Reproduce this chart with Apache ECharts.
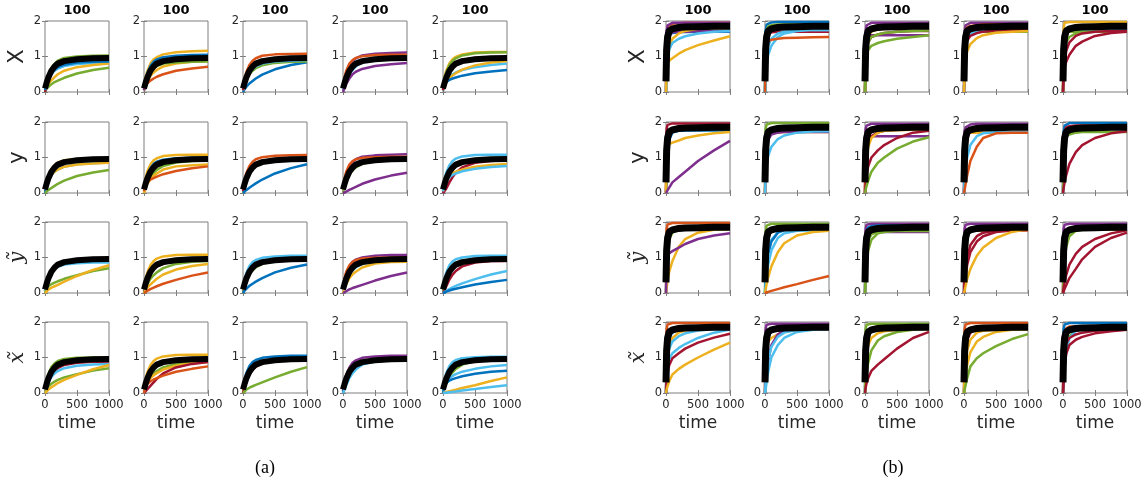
<!DOCTYPE html>
<html>
<head>
<meta charset="utf-8">
<script src="https://cdn.jsdelivr.net/npm/echarts@6/dist/echarts.min.js"></script>
<style>
html,body{margin:0;padding:0;background:#fff}
#main{width:1148px;height:490px}
</style>
</head>
<body>
<div id="main"></div>
<script>
// sample times of the runs (panel b rises much faster, so it is sampled finer at the start)
var timeA = [0, 25, 50, 100, 150, 200, 300, 500, 750, 1000];
var timeB = [0, 10, 25, 50, 100, 200, 300, 500, 750, 1000];
var xTicks = [0, 500, 1000];
var yTicks = [0, 1, 2];
var rowNames = ['X', 'y', 'ỹ', 'x̃'];
var colTitle = '100';
var xName = 'time';
var panelNames = ['(a)', '(b)'];

// mean trajectory (thick black)
var meanA = [0.1, 0.26, 0.4, 0.6, 0.72, 0.8, 0.87, 0.92, 0.95, 0.96];
var meanB = [0.3, 1.2, 1.55, 1.72, 1.78, 1.82, 1.83, 1.84, 1.85, 1.85];

// runs: [colour order index, values at the panel's times]
var a11 = [[5,[0.1,0.3,0.46,0.68,0.8,0.88,0.96,1.0,1.02,1.03]],[6,[0.05,0.2,0.33,0.5,0.6,0.66,0.73,0.79,0.82,0.83]],[3,[0.05,0.15,0.22,0.33,0.42,0.5,0.6,0.7,0.76,0.8]],[5,[0,0.1,0.15,0.22,0.28,0.32,0.4,0.52,0.62,0.68]],[7,[0,0.15,0.3,0.52,0.65,0.74,0.83,0.9,0.92,0.93]],[1,[0.05,0.2,0.33,0.52,0.63,0.7,0.77,0.83,0.85,0.86]]];
var a12 = [[3,[0.1,0.4,0.58,0.8,0.92,0.98,1.06,1.12,1.15,1.16]],[1,[0.1,0.35,0.52,0.73,0.85,0.92,0.98,1.02,1.04,1.05]],[3,[0.05,0.2,0.3,0.45,0.55,0.62,0.72,0.8,0.85,0.87]],[5,[0.05,0.25,0.38,0.55,0.66,0.73,0.8,0.83,0.85,0.86]],[2,[0.05,0.2,0.25,0.32,0.38,0.43,0.5,0.6,0.66,0.71]],[4,[0.05,0.25,0.4,0.6,0.72,0.8,0.87,0.91,0.93,0.93]]];
var a13 = [[2,[0.1,0.38,0.55,0.76,0.88,0.95,1.02,1.06,1.07,1.08]],[1,[0,0.08,0.14,0.24,0.31,0.38,0.49,0.64,0.76,0.84]],[5,[0.05,0.22,0.33,0.5,0.6,0.67,0.75,0.82,0.85,0.86]],[6,[0.05,0.25,0.38,0.55,0.65,0.72,0.8,0.86,0.88,0.9]],[7,[0.05,0.25,0.4,0.6,0.72,0.8,0.88,0.94,0.96,0.97]]];
var a14 = [[4,[0.1,0.38,0.55,0.76,0.88,0.95,1.03,1.08,1.1,1.11]],[2,[0.1,0.42,0.6,0.8,0.9,0.96,1.01,1.04,1.05,1.05]],[6,[0.05,0.2,0.32,0.5,0.62,0.72,0.84,0.93,0.96,0.97]],[4,[0,0.12,0.22,0.38,0.5,0.57,0.65,0.73,0.78,0.82]]];
var a15 = [[3,[0.1,0.42,0.6,0.8,0.92,0.99,1.06,1.11,1.13,1.13]],[5,[0.1,0.38,0.55,0.76,0.88,0.95,1.03,1.09,1.11,1.12]],[6,[0.05,0.22,0.3,0.42,0.5,0.55,0.62,0.7,0.76,0.8]],[3,[0.05,0.22,0.3,0.4,0.47,0.53,0.63,0.75,0.83,0.87]],[1,[0.05,0.22,0.28,0.34,0.38,0.41,0.46,0.53,0.58,0.62]],[7,[0.05,0.28,0.42,0.62,0.75,0.83,0.91,0.96,0.98,0.98]]];
var a21 = [[3,[0.1,0.33,0.48,0.68,0.79,0.86,0.92,0.96,0.97,0.98]],[6,[0.05,0.2,0.32,0.5,0.6,0.66,0.74,0.81,0.84,0.86]],[3,[0.05,0.25,0.37,0.52,0.6,0.66,0.74,0.8,0.83,0.85]],[1,[0,0.25,0.4,0.6,0.7,0.76,0.84,0.9,0.92,0.92]],[5,[0,0.04,0.08,0.14,0.2,0.26,0.35,0.48,0.58,0.65]]];
var a22 = [[3,[0.1,0.42,0.6,0.8,0.92,0.98,1.04,1.07,1.08,1.08]],[1,[0.1,0.35,0.5,0.7,0.82,0.88,0.94,0.98,0.99,0.99]],[5,[0,0.2,0.3,0.45,0.56,0.65,0.76,0.86,0.9,0.92]],[3,[0,0.15,0.25,0.38,0.48,0.55,0.66,0.75,0.78,0.8]],[2,[0.05,0.25,0.32,0.38,0.42,0.46,0.53,0.62,0.7,0.75]]];
var a23 = [[2,[0.1,0.38,0.55,0.76,0.88,0.95,1.01,1.05,1.06,1.07]],[5,[0,0.2,0.35,0.55,0.68,0.76,0.86,0.93,0.95,0.96]],[7,[0.05,0.28,0.42,0.62,0.75,0.83,0.91,0.95,0.97,0.97]],[1,[0,0.04,0.08,0.15,0.21,0.27,0.38,0.55,0.7,0.81]]];
var a24 = [[4,[0.1,0.38,0.55,0.76,0.88,0.95,1.02,1.06,1.08,1.09]],[2,[0.1,0.42,0.6,0.8,0.9,0.95,0.99,1.01,1.02,1.02]],[5,[0,0.2,0.32,0.52,0.64,0.72,0.82,0.9,0.93,0.93]],[4,[0,0.02,0.04,0.09,0.13,0.17,0.26,0.38,0.49,0.57]]];
var a25 = [[6,[0.1,0.4,0.57,0.78,0.9,0.97,1.03,1.07,1.08,1.08]],[4,[0,0.2,0.32,0.52,0.65,0.74,0.84,0.91,0.93,0.93]],[7,[0,0.05,0.12,0.3,0.45,0.57,0.72,0.85,0.9,0.93]],[3,[0.05,0.3,0.42,0.52,0.57,0.6,0.66,0.74,0.79,0.82]],[6,[0.05,0.25,0.35,0.45,0.51,0.55,0.61,0.68,0.73,0.76]]];
var a31 = [[2,[0.05,0.3,0.45,0.62,0.72,0.79,0.86,0.91,0.93,0.93]],[6,[0.05,0.25,0.4,0.58,0.68,0.74,0.8,0.84,0.86,0.86]],[5,[0,0.12,0.18,0.25,0.29,0.33,0.4,0.5,0.62,0.7]],[3,[0,0.05,0.09,0.15,0.19,0.23,0.32,0.48,0.65,0.78]]];
var a32 = [[3,[0.1,0.4,0.57,0.78,0.9,0.97,1.03,1.07,1.08,1.08]],[6,[0.05,0.3,0.45,0.64,0.75,0.82,0.89,0.94,0.96,0.96]],[7,[0,0.25,0.38,0.56,0.67,0.74,0.83,0.9,0.93,0.93]],[5,[0,0.15,0.25,0.4,0.5,0.58,0.7,0.82,0.88,0.9]],[3,[0,0.08,0.14,0.24,0.32,0.4,0.52,0.66,0.76,0.82]],[2,[0,0.03,0.06,0.11,0.15,0.19,0.26,0.37,0.49,0.58]]];
var a33 = [[6,[0.1,0.38,0.55,0.76,0.87,0.93,0.99,1.03,1.05,1.05]],[2,[0.05,0.3,0.46,0.65,0.76,0.83,0.9,0.94,0.95,0.95]],[5,[0,0.2,0.32,0.52,0.64,0.72,0.82,0.9,0.93,0.93]],[1,[0,0.07,0.12,0.2,0.26,0.32,0.42,0.58,0.71,0.8]]];
var a34 = [[4,[0.1,0.38,0.55,0.76,0.88,0.94,1.0,1.05,1.07,1.07]],[2,[0.1,0.42,0.6,0.78,0.88,0.93,0.97,0.99,1.0,1.0]],[6,[0,0.2,0.32,0.52,0.64,0.72,0.82,0.89,0.91,0.91]],[3,[0,0.15,0.25,0.42,0.53,0.6,0.72,0.83,0.87,0.88]],[4,[0,0.02,0.05,0.1,0.14,0.17,0.23,0.35,0.48,0.58]]];
var a35 = [[6,[0.1,0.4,0.57,0.78,0.89,0.95,1.0,1.04,1.05,1.05]],[5,[0.05,0.3,0.46,0.66,0.78,0.85,0.91,0.94,0.94,0.94]],[7,[0,0.08,0.18,0.38,0.52,0.62,0.75,0.86,0.9,0.9]],[6,[0,0.03,0.06,0.11,0.16,0.2,0.27,0.39,0.52,0.62]],[1,[0,0.02,0.04,0.07,0.1,0.12,0.16,0.24,0.31,0.37]]];
var a41 = [[5,[0.1,0.36,0.53,0.73,0.84,0.9,0.96,0.99,1.0,1.0]],[7,[0,0.15,0.3,0.5,0.62,0.7,0.79,0.85,0.88,0.88]],[6,[0,0.15,0.28,0.45,0.55,0.62,0.7,0.77,0.8,0.82]],[5,[0,0.12,0.18,0.26,0.32,0.37,0.44,0.53,0.63,0.7]],[3,[0,0.05,0.09,0.16,0.22,0.28,0.37,0.51,0.67,0.79]]];
var a42 = [[3,[0.1,0.4,0.57,0.78,0.9,0.97,1.03,1.07,1.08,1.08]],[1,[0.05,0.3,0.45,0.65,0.76,0.83,0.9,0.94,0.95,0.95]],[5,[0,0.22,0.32,0.46,0.55,0.62,0.72,0.82,0.86,0.88]],[3,[0,0.2,0.3,0.42,0.5,0.56,0.66,0.77,0.84,0.87]],[7,[0,0.05,0.1,0.2,0.3,0.4,0.55,0.72,0.82,0.87]],[2,[0,0.18,0.25,0.33,0.38,0.42,0.49,0.6,0.68,0.75]]];
var a43 = [[1,[0.1,0.38,0.55,0.76,0.87,0.93,0.99,1.03,1.05,1.05]],[3,[0,0.25,0.4,0.6,0.72,0.8,0.88,0.93,0.94,0.95]],[7,[0,0.18,0.32,0.52,0.65,0.74,0.84,0.9,0.92,0.92]],[5,[0,0.05,0.09,0.15,0.19,0.23,0.3,0.44,0.6,0.73]]];
var a44 = [[4,[0.05,0.32,0.5,0.72,0.85,0.92,0.99,1.03,1.05,1.05]],[2,[0.1,0.35,0.5,0.68,0.78,0.84,0.9,0.94,0.95,0.95]],[1,[0,0.18,0.32,0.52,0.65,0.74,0.84,0.9,0.92,0.92]],[6,[0,0.1,0.22,0.42,0.56,0.66,0.8,0.89,0.92,0.92]]];
var a45 = [[6,[0.1,0.38,0.55,0.76,0.87,0.93,0.98,1.01,1.02,1.02]],[2,[0.05,0.3,0.45,0.63,0.74,0.8,0.87,0.91,0.93,0.93]],[5,[0,0.15,0.27,0.45,0.58,0.68,0.8,0.9,0.94,0.95]],[6,[0,0.25,0.33,0.42,0.48,0.53,0.6,0.68,0.75,0.79]],[1,[0,0.2,0.28,0.35,0.39,0.42,0.47,0.54,0.6,0.63]],[3,[0,0.01,0.03,0.05,0.07,0.09,0.14,0.22,0.34,0.44]],[6,[0,0.01,0.01,0.02,0.03,0.04,0.07,0.11,0.17,0.22]]];

var b11 = [[2,[0,1.6,1.85,1.9,1.92,1.94,1.95,1.95,1.95,1.95]],[4,[0,1.7,1.88,1.93,1.95,1.95,1.95,1.95,1.95,1.95]],[1,[0,1.2,1.5,1.62,1.66,1.68,1.69,1.7,1.7,1.7]],[4,[0.3,1.4,1.6,1.65,1.68,1.7,1.7,1.71,1.72,1.72]],[3,[0,0.9,1.1,1.3,1.5,1.65,1.72,1.78,1.8,1.8]],[6,[0,0.5,0.9,1.2,1.38,1.5,1.57,1.65,1.7,1.72]],[3,[0,0.75,0.82,0.88,0.95,1.08,1.18,1.32,1.45,1.57]]];
var b12 = [[1,[0,1.7,1.9,1.95,1.96,1.97,1.97,1.97,1.97,1.97]],[5,[0,1.5,1.75,1.85,1.88,1.9,1.9,1.9,1.9,1.9]],[7,[0.3,1.4,1.6,1.65,1.68,1.7,1.7,1.7,1.7,1.7]],[1,[0,1.0,1.3,1.55,1.75,1.82,1.84,1.85,1.85,1.85]],[6,[0,0.9,1.1,1.3,1.5,1.65,1.7,1.74,1.75,1.75]],[6,[0,0.6,0.8,1.05,1.3,1.55,1.65,1.72,1.75,1.75]],[2,[0,1.3,1.42,1.45,1.47,1.5,1.52,1.53,1.54,1.55]]];
var b13 = [[4,[0,1.7,1.88,1.93,1.95,1.95,1.95,1.95,1.95,1.95]],[2,[0,1.0,1.5,1.7,1.8,1.82,1.83,1.84,1.84,1.84]],[3,[0,1.2,1.4,1.55,1.7,1.76,1.78,1.8,1.8,1.8]],[4,[0.3,1.5,1.56,1.58,1.6,1.6,1.6,1.6,1.6,1.6]],[7,[0,1.0,1.2,1.4,1.55,1.62,1.66,1.7,1.72,1.72]],[5,[0,1.1,1.25,1.4,1.55,1.62,1.66,1.7,1.72,1.73]],[5,[0,0.9,1.05,1.18,1.3,1.38,1.43,1.5,1.55,1.6]]];
var b14 = [[4,[0,1.7,1.88,1.93,1.95,1.95,1.95,1.95,1.95,1.95]],[2,[0.3,1.6,1.75,1.82,1.86,1.88,1.9,1.9,1.9,1.9]],[5,[0,1.3,1.5,1.6,1.65,1.68,1.7,1.7,1.7,1.7]],[6,[0,1.2,1.4,1.55,1.65,1.7,1.72,1.74,1.75,1.75]],[7,[0,1.0,1.25,1.45,1.58,1.66,1.7,1.73,1.75,1.75]],[3,[0,0.6,0.95,1.15,1.35,1.52,1.6,1.67,1.7,1.72]]];
var b15 = [[3,[0,1.8,1.95,1.97,1.97,1.97,1.97,1.97,1.97,1.97]],[2,[0,1.0,1.5,1.7,1.8,1.82,1.83,1.84,1.84,1.84]],[6,[0,1.2,1.5,1.65,1.72,1.75,1.76,1.76,1.76,1.76]],[5,[0,1.3,1.55,1.65,1.7,1.7,1.7,1.7,1.7,1.7]],[5,[0,1.0,1.2,1.4,1.55,1.65,1.68,1.7,1.7,1.7]],[7,[0,0.7,0.9,1.15,1.4,1.58,1.65,1.7,1.72,1.72]],[7,[0,0.55,0.7,0.85,1.05,1.3,1.42,1.58,1.66,1.7]]];
var b21 = [[7,[0,1.8,1.92,1.95,1.96,1.96,1.96,1.96,1.96,1.96]],[2,[0,1.0,1.5,1.7,1.8,1.82,1.83,1.84,1.84,1.84]],[3,[0,1.3,1.55,1.7,1.78,1.8,1.8,1.8,1.8,1.8]],[1,[0,0.5,1.1,1.5,1.7,1.75,1.76,1.76,1.76,1.76]],[3,[0,1.1,1.3,1.38,1.42,1.48,1.55,1.62,1.68,1.72]],[4,[0,0.03,0.08,0.15,0.3,0.45,0.6,0.9,1.2,1.47]]];
var b22 = [[5,[0,1.8,1.93,1.96,1.97,1.97,1.97,1.97,1.97,1.97]],[2,[0,1.0,1.5,1.7,1.8,1.82,1.83,1.84,1.84,1.84]],[3,[0,1.4,1.6,1.68,1.7,1.72,1.72,1.72,1.72,1.72]],[4,[0,0.8,1.2,1.5,1.65,1.7,1.72,1.72,1.72,1.72]],[6,[0,0.4,0.75,1.05,1.3,1.52,1.62,1.7,1.73,1.74]]];
var b23 = [[4,[0,1.8,1.9,1.94,1.95,1.95,1.95,1.95,1.95,1.95]],[2,[0,1.0,1.5,1.7,1.8,1.82,1.83,1.84,1.84,1.84]],[4,[0.3,1.55,1.58,1.6,1.6,1.6,1.6,1.6,1.6,1.6]],[7,[0,1.0,1.3,1.5,1.6,1.7,1.75,1.78,1.8,1.8]],[3,[0,0.5,0.9,1.3,1.55,1.7,1.75,1.77,1.78,1.78]],[7,[0,0.3,0.5,0.75,1.0,1.2,1.35,1.55,1.7,1.75]],[5,[0,0.1,0.2,0.35,0.6,0.85,1.0,1.25,1.45,1.57]]];
var b24 = [[4,[0,1.75,1.85,1.9,1.93,1.95,1.95,1.95,1.95,1.95]],[4,[0,1.6,1.72,1.78,1.8,1.82,1.82,1.82,1.82,1.82]],[3,[0,1.3,1.55,1.65,1.7,1.7,1.7,1.7,1.7,1.7]],[1,[0,0.9,1.3,1.6,1.75,1.8,1.82,1.82,1.82,1.82]],[6,[0,0.4,0.7,1.0,1.35,1.6,1.68,1.72,1.72,1.72]],[2,[0,0.1,0.25,0.5,0.9,1.3,1.55,1.68,1.7,1.7]]];
var b25 = [[1,[0,1.7,1.9,1.95,1.97,1.97,1.97,1.97,1.97,1.97]],[7,[0,1.5,1.75,1.85,1.88,1.9,1.9,1.9,1.9,1.9]],[6,[0,0.8,1.2,1.55,1.75,1.8,1.8,1.8,1.8,1.8]],[5,[0,1.3,1.5,1.6,1.65,1.7,1.72,1.72,1.72,1.72]],[7,[0,0.15,0.3,0.5,0.82,1.15,1.35,1.55,1.68,1.74]]];
var b31 = [[2,[0,1.8,1.93,1.96,1.97,1.97,1.97,1.97,1.97,1.97]],[6,[0,1.4,1.65,1.75,1.8,1.82,1.82,1.82,1.82,1.82]],[5,[0,0.8,1.2,1.5,1.7,1.78,1.8,1.8,1.8,1.8]],[3,[0,0.15,0.35,0.6,0.9,1.3,1.52,1.7,1.78,1.8]],[4,[0,0.9,1.05,1.12,1.18,1.28,1.38,1.52,1.62,1.68]]];
var b32 = [[5,[0,1.7,1.9,1.94,1.95,1.95,1.95,1.95,1.95,1.95]],[6,[0,0.5,0.9,1.25,1.5,1.7,1.76,1.78,1.78,1.78]],[1,[0,0.3,0.7,1.1,1.45,1.7,1.78,1.8,1.8,1.8]],[6,[0,0.2,0.45,0.8,1.2,1.55,1.68,1.75,1.76,1.76]],[3,[0,0.1,0.25,0.45,0.75,1.15,1.4,1.62,1.72,1.75]],[2,[0,0,0.01,0.03,0.06,0.11,0.16,0.25,0.37,0.48]]];
var b33 = [[4,[0,1.8,1.92,1.95,1.95,1.95,1.95,1.95,1.95,1.95]],[2,[0,1.0,1.5,1.7,1.8,1.82,1.83,1.84,1.84,1.84]],[1,[0,1.5,1.75,1.85,1.88,1.9,1.9,1.9,1.9,1.9]],[4,[0.3,1.65,1.7,1.72,1.72,1.72,1.72,1.72,1.72,1.72]],[5,[0,0.8,1.2,1.5,1.65,1.72,1.74,1.75,1.75,1.75]],[5,[0,0.4,0.8,1.2,1.5,1.68,1.72,1.75,1.76,1.76]]];
var b34 = [[4,[0,1.8,1.92,1.95,1.95,1.95,1.95,1.95,1.95,1.95]],[1,[0,1.2,1.5,1.7,1.8,1.85,1.85,1.85,1.85,1.85]],[2,[0,1.0,1.4,1.65,1.75,1.76,1.76,1.76,1.76,1.76]],[7,[0,0.3,0.6,1.0,1.35,1.6,1.7,1.76,1.78,1.78]],[7,[0,0.2,0.45,0.8,1.15,1.45,1.6,1.72,1.76,1.78]],[3,[0,0.08,0.2,0.4,0.68,1.05,1.28,1.55,1.72,1.8]]];
var b35 = [[4,[0,1.8,1.92,1.95,1.95,1.95,1.95,1.95,1.95,1.95]],[2,[0,1.5,1.7,1.76,1.78,1.78,1.78,1.78,1.78,1.78]],[5,[0,0.8,1.2,1.5,1.7,1.78,1.8,1.8,1.8,1.8]],[5,[0,0.5,0.9,1.3,1.6,1.75,1.78,1.8,1.8,1.8]],[7,[0,0.15,0.3,0.5,0.8,1.1,1.3,1.52,1.68,1.77]],[7,[0,0.05,0.12,0.22,0.42,0.68,0.95,1.3,1.55,1.7]]];
var b41 = [[2,[0,1.8,1.93,1.96,1.97,1.97,1.97,1.97,1.97,1.97]],[1,[0,1.0,1.3,1.55,1.7,1.8,1.82,1.84,1.85,1.85]],[3,[0,0.7,1.0,1.3,1.55,1.7,1.76,1.8,1.82,1.82]],[6,[0,0.7,1.0,1.25,1.45,1.6,1.68,1.76,1.8,1.82]],[6,[0,0.5,0.75,0.95,1.12,1.27,1.38,1.55,1.7,1.79]],[7,[0,0.4,0.6,0.78,0.98,1.12,1.25,1.42,1.56,1.67]],[3,[0,0.1,0.2,0.33,0.52,0.68,0.8,1.0,1.22,1.42]]];
var b42 = [[4,[0,1.8,1.92,1.95,1.95,1.95,1.95,1.95,1.95,1.95]],[2,[0,1.0,1.5,1.7,1.8,1.82,1.83,1.84,1.84,1.84]],[1,[0,1.0,1.4,1.65,1.78,1.82,1.82,1.82,1.82,1.82]],[3,[0,1.2,1.38,1.45,1.55,1.65,1.72,1.78,1.8,1.8]],[4,[0,0.3,0.55,0.9,1.35,1.65,1.75,1.8,1.8,1.8]],[6,[0,0.3,0.6,0.95,1.3,1.58,1.7,1.78,1.8,1.8]],[6,[0,0.1,0.3,0.6,1.0,1.35,1.55,1.72,1.78,1.8]]];
var b43 = [[5,[0,1.8,1.92,1.95,1.95,1.95,1.95,1.95,1.95,1.95]],[1,[0,1.2,1.5,1.7,1.8,1.83,1.84,1.85,1.85,1.85]],[6,[0,1.0,1.35,1.6,1.75,1.8,1.8,1.8,1.8,1.8]],[3,[0,0.8,1.1,1.35,1.55,1.68,1.74,1.78,1.8,1.8]],[5,[0,0.3,0.55,0.85,1.2,1.48,1.6,1.72,1.78,1.8]],[7,[0,0.15,0.28,0.42,0.62,0.8,0.95,1.25,1.55,1.72]]];
var b44 = [[2,[0,1.8,1.93,1.96,1.97,1.97,1.97,1.97,1.97,1.97]],[6,[0,1.3,1.6,1.75,1.82,1.84,1.85,1.85,1.85,1.85]],[7,[0,0.8,1.2,1.5,1.7,1.8,1.82,1.82,1.82,1.82]],[3,[0,0.6,0.9,1.2,1.5,1.7,1.75,1.78,1.8,1.8]],[3,[0,0.25,0.5,0.8,1.15,1.45,1.58,1.72,1.78,1.8]],[5,[0,0.1,0.22,0.42,0.75,0.98,1.12,1.32,1.52,1.66]]];
var b45 = [[1,[0,1.8,1.93,1.96,1.97,1.97,1.97,1.97,1.97,1.97]],[2,[0,1.4,1.7,1.82,1.87,1.88,1.88,1.88,1.88,1.88]],[5,[0,0.5,0.9,1.3,1.6,1.75,1.8,1.82,1.82,1.82]],[6,[0,0.3,0.7,1.15,1.55,1.75,1.8,1.82,1.82,1.82]],[7,[0,0.8,1.15,1.4,1.55,1.65,1.7,1.75,1.78,1.8]],[7,[0,0.3,0.7,1.1,1.35,1.5,1.58,1.68,1.74,1.78]]];

var panelA = [[a11,a12,a13,a14,a15],[a21,a22,a23,a24,a25],[a31,a32,a33,a34,a35],[a41,a42,a43,a44,a45]];
var panelB = [[b11,b12,b13,b14,b15],[b21,b22,b23,b24,b25],[b31,b32,b33,b34,b35],[b41,b42,b43,b44,b45]];

// matlab default colour order
var colorOrder = ['#0072BD','#D95319','#EDB120','#7E2F8E','#77AC30','#4DBEEE','#A2142F'];
var boxColor = '#7f7f7f';
var textColor = '#262626';
var font = '"DejaVu Sans", sans-serif';

var panels = [
  {runs: panelA, time: timeA, mean: meanA, cols: [45,144,243,343,443], labelX: 18, meanWidth: 6, capX: 265},
  {runs: panelB, time: timeB, mean: meanB, cols: [666,765,865,964,1063], labelX: 639, meanWidth: 7, capX: 893}
];
var rowTop = [21,122,222,322];
var boxW = 64, boxH = 71;

function pts(time, v) {
  return time.map(function (t, i) { return [t, v[i]]; });
}

var grids = [], xAxes = [], yAxes = [], series = [], graphics = [];

panels.forEach(function (p) {
  p.runs.forEach(function (row, r) {
    row.forEach(function (runs, c) {
      var gi = grids.length;
      grids.push({
        left: p.cols[c], top: rowTop[r], width: boxW, height: boxH,
        show: true, borderColor: boxColor, borderWidth: 1, backgroundColor: 'transparent',
        containLabel: false, outerBoundsMode: 'none'
      });
      var bottom = r === rowNames.length - 1;
      var tick = {show: true, inside: true, length: 3, lineStyle: {color: boxColor}};
      xAxes.push({
        gridIndex: gi, type: 'value', min: xTicks[0], max: xTicks[2], interval: xTicks[1],
        axisLine: {show: false}, axisTick: tick, splitLine: {show: false},
        axisLabel: {show: bottom, fontSize: 11.5, color: textColor, fontFamily: font, margin: 6,
          formatter: function (v) { return String(v); }},
        name: bottom ? xName : '', nameLocation: 'middle', nameGap: 22,
        nameTextStyle: {fontSize: 17, color: textColor, fontFamily: font}
      });
      xAxes.push({
        gridIndex: gi, type: 'value', position: 'top', min: xTicks[0], max: xTicks[2], interval: xTicks[1],
        axisLine: {show: false}, axisTick: tick, splitLine: {show: false}, axisLabel: {show: false}
      });
      yAxes.push({
        gridIndex: gi, type: 'value', min: yTicks[0], max: yTicks[2], interval: yTicks[1],
        axisLine: {show: false}, axisTick: tick, splitLine: {show: false},
        axisLabel: {fontSize: 11.5, color: textColor, fontFamily: font, margin: 4}
      });
      yAxes.push({
        gridIndex: gi, type: 'value', position: 'right', min: yTicks[0], max: yTicks[2], interval: yTicks[1],
        axisLine: {show: false}, axisTick: tick, splitLine: {show: false}, axisLabel: {show: false}
      });
      runs.forEach(function (run) {
        series.push({
          type: 'line', xAxisIndex: gi * 2, yAxisIndex: gi * 2, data: pts(p.time, run[1]),
          showSymbol: false, silent: true, clip: false, z: 2,
          lineStyle: {width: 2.5, color: colorOrder[run[0] - 1]}
        });
      });
      series.push({
        type: 'line', xAxisIndex: gi * 2, yAxisIndex: gi * 2, data: pts(p.time, p.mean),
        showSymbol: false, silent: true, clip: false, z: 3,
        lineStyle: {width: p.meanWidth, color: '#000'}
      });
      if (r === 0) {
        graphics.push({
          type: 'text', x: p.cols[c] + boxW / 2, y: 11,
          style: {text: colTitle, fill: '#000', font: 'bold 13px ' + font, align: 'center', verticalAlign: 'middle'}
        });
      }
    });
    var serif = r >= 2;
    graphics.push({
      type: 'text', x: p.labelX, y: rowTop[r] + boxH / 2, rotation: Math.PI / 2,
      style: {
        text: rowNames[r], fill: textColor, align: 'center', verticalAlign: 'middle',
        font: serif ? 'italic 21px "DejaVu Serif", serif' : '21px ' + font
      }
    });
  });
});

panels.forEach(function (p, i) {
  graphics.push({
    type: 'text', x: p.capX, y: 468,
    style: {text: panelNames[i], fill: '#000', font: '18px "Liberation Serif", serif', align: 'center', verticalAlign: 'middle'}
  });
});

var chart = echarts.init(document.getElementById('main'), null, {renderer: 'canvas'});
chart.setOption({
  animation: false,
  backgroundColor: '#fff',
  grid: grids,
  xAxis: xAxes,
  yAxis: yAxes,
  series: series,
  graphic: graphics
});
</script>
</body>
</html>
